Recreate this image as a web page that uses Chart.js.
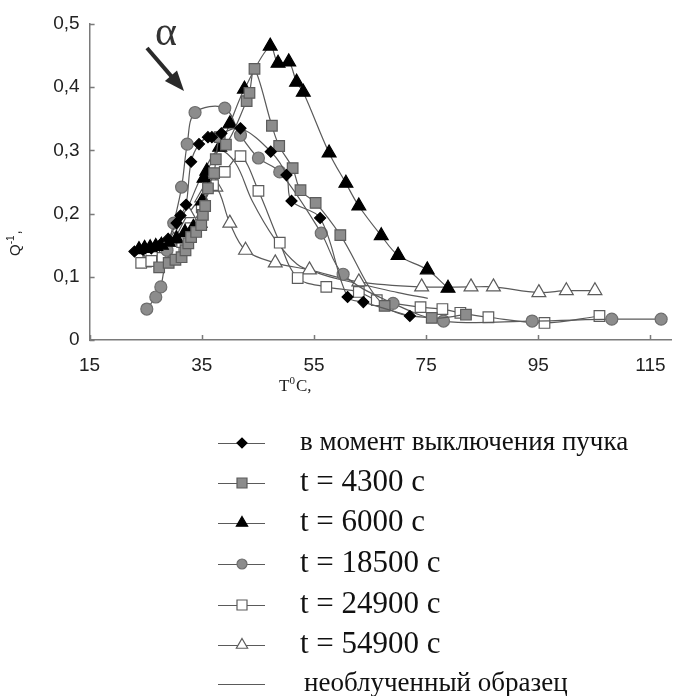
<!DOCTYPE html>
<html>
<head>
<meta charset="utf-8">
<script src="https://cdn.jsdelivr.net/npm/chart.js@4.4.0/dist/chart.umd.min.js"></script>
<style>
  html, body { margin: 0; padding: 0; background: #fff; }
  #wrap { width: 681px; height: 696px; position: relative; }
</style>
</head>
<body>
<div id="wrap"><canvas id="chart" width="681" height="696"></canvas></div>
<script>
// Internal friction Q^-1 vs temperature, several times after beam shutdown
const xTicks = [15, 35, 55, 75, 95, 115];
const yTicks = [0, 0.1, 0.2, 0.3, 0.4, 0.5];

const beamOffT = [23.0, 24.5, 26.0, 27.5, 29.0, 30.5, 31.2, 32.2, 33.1, 34.5, 36.1, 36.8, 38.5, 41.9, 47.3, 50.1, 51.0, 56.1, 61.0, 63.8, 72.1];
const beamOffQ = [0.140, 0.143, 0.145, 0.150, 0.160, 0.185, 0.197, 0.214, 0.282, 0.310, 0.321, 0.321, 0.327, 0.335, 0.298, 0.261, 0.220, 0.193, 0.068, 0.060, 0.038];

const t4300T = [27.4, 29.1, 30.3, 31.4, 32.1, 32.6, 33.1, 34.0, 34.9, 35.2, 35.6, 36.1, 37.2, 37.5, 38.2, 39.3, 43.0, 43.5, 44.4, 47.5, 48.8, 51.2, 52.6, 55.3, 59.7, 67.6, 76.0, 82.1];
const t4300Q = [0.115, 0.122, 0.127, 0.131, 0.142, 0.153, 0.163, 0.171, 0.182, 0.198, 0.212, 0.240, 0.264, 0.286, 0.321, 0.309, 0.378, 0.391, 0.429, 0.339, 0.307, 0.272, 0.237, 0.217, 0.166, 0.054, 0.035, 0.040];

const t6000T = [23.8, 24.8, 25.8, 26.8, 27.8, 29.0, 30.5, 32.0, 33.5, 34.7, 35.1, 35.4, 35.9, 38.2, 40.0, 42.6, 47.2, 48.6, 50.5, 51.9, 53.1, 57.7, 60.7, 63.0, 67.0, 70.0, 75.2, 78.9];
const t6000Q = [0.143, 0.145, 0.146, 0.148, 0.150, 0.155, 0.160, 0.170, 0.178, 0.185, 0.220, 0.256, 0.267, 0.305, 0.342, 0.397, 0.465, 0.438, 0.440, 0.408, 0.392, 0.296, 0.248, 0.212, 0.165, 0.134, 0.111, 0.082];

const t18500T = [25.2, 26.8, 27.7, 28.8, 30.0, 31.4, 32.4, 33.8, 39.1, 41.9, 45.1, 48.9, 56.3, 60.2, 69.1, 78.1, 93.9, 108.1, 116.9];
const t18500Q = [0.049, 0.068, 0.084, 0.142, 0.185, 0.242, 0.310, 0.360, 0.367, 0.324, 0.288, 0.266, 0.169, 0.104, 0.058, 0.030, 0.030, 0.033, 0.033];

const t24900T = [24.2, 26.0, 28.0, 30.0, 31.5, 33.0, 35.0, 37.0, 39.1, 41.9, 45.1, 48.9, 52.1, 57.2, 63.0, 66.2, 74.0, 77.9, 81.1, 86.1, 96.1, 105.9];
const t24900Q = [0.122, 0.125, 0.130, 0.140, 0.155, 0.177, 0.210, 0.245, 0.266, 0.291, 0.236, 0.154, 0.098, 0.084, 0.076, 0.063, 0.052, 0.049, 0.043, 0.036, 0.027, 0.038];

const t54900T = [24.7, 27.7, 30.0, 32.6, 35.0, 37.5, 40.0, 42.8, 48.1, 54.2, 63.0, 74.2, 83.0, 87.0, 95.1, 100.0, 105.1];
const t54900Q = [0.122, 0.131, 0.158, 0.200, 0.225, 0.242, 0.185, 0.142, 0.122, 0.111, 0.092, 0.084, 0.084, 0.084, 0.075, 0.078, 0.078];

const refT = [24.0, 28.0, 32.0, 35.0, 38.0, 41.0, 44.0, 48.0, 52.0, 56.0, 60.0, 65.0, 70.0, 75.3];
const refQ = [0.120, 0.140, 0.200, 0.260, 0.300, 0.280, 0.220, 0.160, 0.120, 0.105, 0.095, 0.085, 0.075, 0.066];

const labels = ['в момент выключения пучка', 't = 4300 с', 't = 6000 с', 't = 18500 с', 't = 24900 с', 't = 54900 с', 'необлученный образец'];

const LINE = '#5a5a5a';
const pts = (xs, ys) => xs.map((x, i) => ({ x: x, y: ys[i] }));

function series(label, xs, ys, style, radius, fill, border) {
    return {
        label: label,
        data: pts(xs, ys),
        showLine: true,
        tension: 0.35,
        borderColor: LINE,
        borderWidth: 1.2,
        pointStyle: style,
        pointRadius: radius,
        pointBackgroundColor: fill,
        pointBorderColor: border,
        pointBorderWidth: 1.2
    };
}

const datasets = [
    series(labels[0], beamOffT, beamOffQ, 'rectRot', 5.5, '#000', '#000'),
    series(labels[1], t4300T, t4300Q, 'rect', 7.5, '#8c8c8c', '#5c5c5c'),
    series(labels[2], t6000T, t6000Q, 'triangle', 8, '#000', '#000'),
    series(labels[3], t18500T, t18500Q, 'circle', 6, '#8c8c8c', '#6e6e6e'),
    series(labels[4], t24900T, t24900Q, 'rect', 7.5, '#fff', '#5c5c5c'),
    series(labels[5], t54900T, t54900Q, 'triangle', 8, '#fff', '#5c5c5c'),
    series(labels[6], refT, refQ, false, 0, LINE, LINE)
];

// small marker for the legend rows
function marker(ctx, style, r, x, y) {
    ctx.beginPath();
    if (style === 'circle') {
        ctx.arc(x, y, r, 0, Math.PI * 2);
    } else if (style === 'rect') {
        ctx.rect(x - r, y - r, 2 * r, 2 * r);
    } else if (style === 'rectRot') {
        ctx.moveTo(x - r, y); ctx.lineTo(x, y - r); ctx.lineTo(x + r, y); ctx.lineTo(x, y + r);
        ctx.closePath();
    } else if (style === 'triangle') {
        ctx.moveTo(x, y - r); ctx.lineTo(x + r * 0.87, y + r * 0.5); ctx.lineTo(x - r * 0.87, y + r * 0.5);
        ctx.closePath();
    }
    ctx.fill();
    ctx.stroke();
}

// inward tick marks, axis titles, the alpha arrow and the legend block
const decorations = {
    id: 'decorations',
    afterDraw(chart) {
        const ctx = chart.ctx;
        const xs = chart.scales.x, ys = chart.scales.y;
        const left = chart.chartArea.left, bottom = chart.chartArea.bottom;

        ctx.save();
        ctx.strokeStyle = '#7a7a7a';
        ctx.lineWidth = 1.5;
        ctx.beginPath();
        yTicks.forEach(v => {
            const y = Math.round(ys.getPixelForValue(v)) + 0.5;
            ctx.moveTo(left, y);
            ctx.lineTo(left + 5, y);
        });
        xTicks.forEach(v => {
            const x = Math.round(xs.getPixelForValue(v)) + 0.5;
            ctx.moveTo(x, bottom);
            ctx.lineTo(x, bottom - 5);
        });
        ctx.stroke();

        // x title: T^0 C,
        ctx.fillStyle = '#222';
        ctx.textBaseline = 'alphabetic';
        ctx.textAlign = 'left';
        ctx.font = '17px "Liberation Serif", serif';
        let tx = 279, ty = 391;
        ctx.fillText('T', tx, ty);
        tx += ctx.measureText('T').width;
        ctx.font = '11px "Liberation Serif", serif';
        ctx.fillText('0', tx, ty - 7);
        tx += ctx.measureText('0').width + 1;
        ctx.font = '17px "Liberation Serif", serif';
        ctx.fillText('C,', tx, ty);

        // y title: Q^-1, (rotated)
        ctx.save();
        ctx.translate(20, 256);
        ctx.rotate(-Math.PI / 2);
        ctx.font = '15px "Liberation Sans", sans-serif';
        let qx = 0;
        ctx.fillText('Q', qx, 0);
        qx += ctx.measureText('Q').width;
        ctx.font = '10px "Liberation Sans", sans-serif';
        ctx.fillText('-1', qx, -6);
        qx += ctx.measureText('-1').width + 1;
        ctx.font = '15px "Liberation Sans", sans-serif';
        ctx.fillText(',', qx, 0);
        ctx.restore();

        // alpha marker and arrow
        ctx.font = '42px "Liberation Serif", serif';
        ctx.textAlign = 'center';
        ctx.fillStyle = '#333';
        ctx.fillText('α', 166, 45);
        ctx.strokeStyle = '#2a2a2a';
        ctx.fillStyle = '#2a2a2a';
        ctx.lineWidth = 4;
        const ax0 = 147, ay0 = 48, ax1 = 184, ay1 = 91;
        const ang = Math.atan2(ay1 - ay0, ax1 - ax0);
        ctx.beginPath();
        ctx.moveTo(ax0, ay0);
        ctx.lineTo(ax1 - 14 * Math.cos(ang), ay1 - 14 * Math.sin(ang));
        ctx.stroke();
        ctx.beginPath();
        ctx.moveTo(ax1, ay1);
        ctx.lineTo(ax1 - 20 * Math.cos(ang) + 8 * Math.sin(ang), ay1 - 20 * Math.sin(ang) - 8 * Math.cos(ang));
        ctx.lineTo(ax1 - 20 * Math.cos(ang) - 8 * Math.sin(ang), ay1 - 20 * Math.sin(ang) + 8 * Math.cos(ang));
        ctx.closePath();
        ctx.fill();

        // legend
        const rows = [443, 483, 523, 564, 605, 645, 684];
        const sizes = { rect: 5, rectRot: 5, triangle: 6.5, circle: 5 };
        ctx.textAlign = 'left';
        ctx.textBaseline = 'middle';
        datasets.forEach((ds, i) => {
            const y = rows[i];
            ctx.strokeStyle = LINE;
            ctx.lineWidth = 1.2;
            ctx.beginPath();
            ctx.moveTo(218, y + 0.5);
            ctx.lineTo(265, y + 0.5);
            ctx.stroke();
            if (ds.pointStyle) {
                ctx.fillStyle = ds.pointBackgroundColor;
                ctx.strokeStyle = ds.pointBorderColor;
                ctx.lineWidth = 1.2;
                marker(ctx, ds.pointStyle, sizes[ds.pointStyle], 242, y);
            }
            ctx.fillStyle = '#111';
            const timed = i >= 1 && i <= 5;
            ctx.font = (timed ? '31px' : '27px') + ' "Liberation Serif", serif';
            ctx.fillText(ds.label, i === 6 ? 304 : 300, y);
        });
        ctx.restore();
    }
};

new Chart(document.getElementById('chart'), {
    type: 'scatter',
    data: { datasets: datasets },
    plugins: [decorations],
    options: {
        responsive: false,
        animation: false,
        devicePixelRatio: 1,
        layout: { padding: { left: 0, right: 0, top: 24, bottom: 0 } },
        plugins: { legend: { display: false }, tooltip: { enabled: false } },
        scales: {
            x: {
                type: 'linear',
                min: 15,
                max: 118.8,
                afterBuildTicks: s => { s.ticks = xTicks.map(v => ({ value: v })); },
                afterFit: s => { s.height = 356; },
                grid: { display: false, drawTicks: false },
                border: { color: '#7a7a7a', width: 1.5 },
                ticks: {
                    color: '#222',
                    font: { family: 'Liberation Sans', size: 19 },
                    padding: 14,
                    maxRotation: 0,
                    autoSkip: false
                }
            },
            y: {
                min: 0,
                max: 0.5,
                afterBuildTicks: s => { s.ticks = yTicks.map(v => ({ value: v })); },
                afterFit: s => { s.width = 89.6; },
                grid: { display: false, drawTicks: false },
                border: { color: '#7a7a7a', width: 1.5 },
                ticks: {
                    color: '#222',
                    font: { family: 'Liberation Sans', size: 19 },
                    padding: 10,
                    callback: v => v === 0 ? '0' : v.toFixed(1).replace('.', ',')
                }
            }
        }
    }
});
</script>
</body>
</html>
